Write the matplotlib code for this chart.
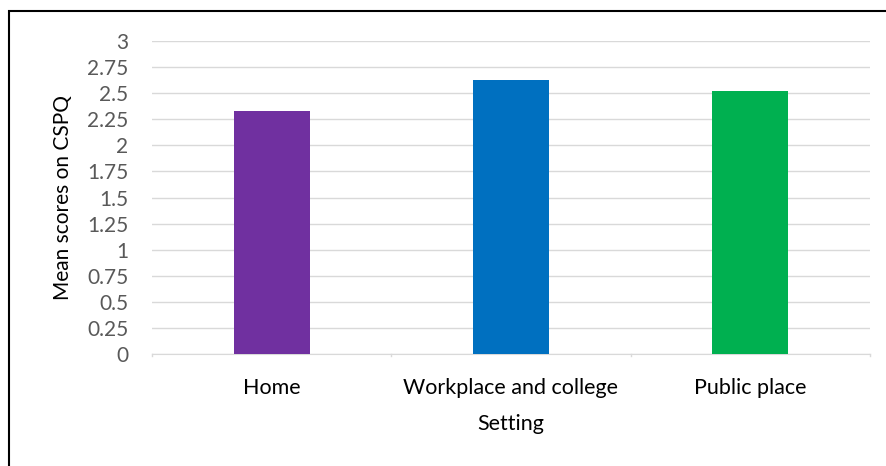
import matplotlib.pyplot as plt
from matplotlib.patches import Rectangle

# Данные
categories = ['Home', 'Workplace and college', 'Public place']
mean_scores = [2.33, 2.63, 2.52]
bar_colors = ['#7030a0', '#0070c0', '#00b050']
y_ticks = [0, 0.25, 0.5, 0.75, 1, 1.25, 1.5, 1.75, 2, 2.25, 2.5, 2.75, 3]
y_tick_labels = ['0', '0.25', '0.5', '0.75', '1', '1.25', '1.5', '1.75', '2', '2.25', '2.5', '2.75', '3']

plt.rcParams['font.family'] = ['Lato', 'DejaVu Sans']

W, H = 886, 466
fig = plt.figure(figsize=(W / 100, H / 100), dpi=100)
ax = fig.add_axes([152 / W, 1 - 354 / H, 718 / W, 313 / H])

x = range(len(categories))
ax.bar(x, mean_scores, width=0.317, color=bar_colors, zorder=3)

ax.set_xlim(-0.5, len(categories) - 0.5)
ax.set_ylim(0, 3)
ax.set_yticks(y_ticks)
ax.set_yticklabels(y_tick_labels, fontsize=15, color='#595959')
ax.set_xticks(list(x))
ax.set_xticklabels(categories, fontsize=15.5, color='black')
ax.tick_params(axis='y', length=0, pad=17)
ax.tick_params(axis='x', length=0, pad=17)

# разделители категорий
for b in [-0.5, 0.5, 1.5, 2.5]:
    ax.plot([b, b], [0, -0.022], color='#d9d9d9', lw=1, clip_on=False, zorder=2)

ax.grid(axis='y', color='#d9d9d9', lw=1, zorder=0)
for s in ['top', 'right', 'left']:
    ax.spines[s].set_visible(False)
ax.spines['bottom'].set_color('#d9d9d9')

ax.set_ylabel('Mean scores on CSPQ', fontsize=15, labelpad=10)
ax.set_xlabel('Setting', fontsize=15.5, labelpad=12)

# рамка вокруг диаграммы
fig.patches.append(Rectangle((8.5 / W, -0.1), 1.2, 1 - 11 / H + 0.1, transform=fig.transFigure,
                             fill=False, edgecolor='black', lw=1.5))

fig.savefig('out.png', dpi=100)
